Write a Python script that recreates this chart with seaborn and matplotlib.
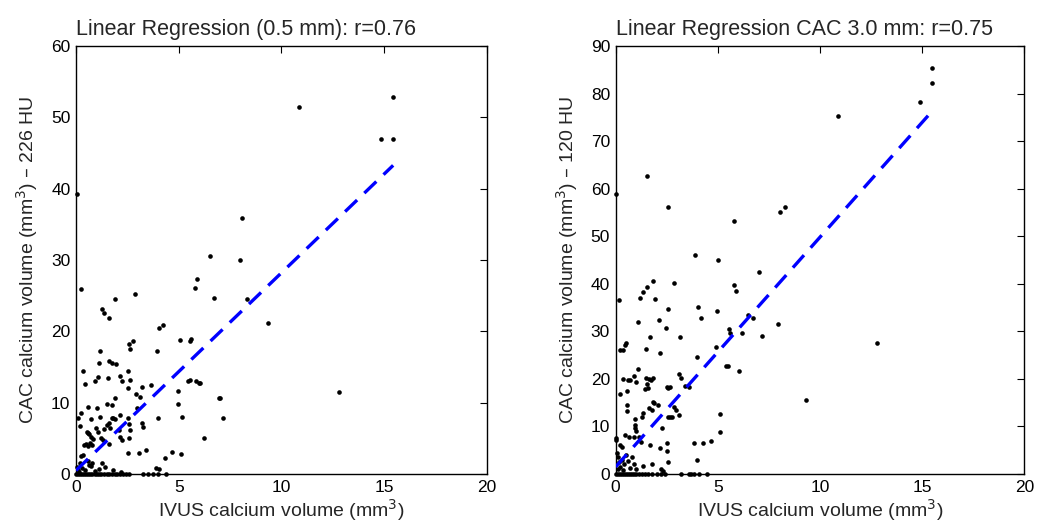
import numpy as np
import pandas as pd
import matplotlib
matplotlib.use("Agg")
import matplotlib.pyplot as plt
import seaborn as sns

sns.set_style("white")
plt.rcParams['font.family'] = ['Liberation Sans', 'DejaVu Sans']

# ---------------- data ----------------
left_x = [0.03, 0.26, 1.25, 1.38, 1.62, 1.88, 2.89, 5.8, 5.89, 6.5, 6.72, 7.96, 8.06, 8.3, 10.87, 14.87, 15.44, 15.44,
          9.34, 6.03, 7.02, 7.15, 6.21, 12.8,
          4.04, 4.25, 1.17, 5.06, 5.55, 5.6, 2.6, 2.76, 2.61, 3.93, 0.33, 1.14, 1.59, 1.74, 1.96, 2.51, 0.44, 0.94, 1.06,
          1.57, 2.14, 2.22, 2.64, 2.55, 3.21, 3.66, 5.45, 5.55, 5.84, 6.0, 2.9, 3.11, 1.9, 4.95, 6.97, 0.11, 0.23, 0.19,
          0.6, 1.02, 1.51, 1.74, 0.73, 1.17, 1.74, 1.82, 1.9, 2.14, 2.55, 2.95, 3.97, 4.98, 5.16, 0.55, 0.6, 0.65, 0.97,
          1.06, 1.36, 1.49, 1.62, 1.65, 2.11, 2.6, 2.63, 3.2, 3.26, 2.16, 2.24, 1.2, 1.3, 0.75, 0.84, 0.4, 0.5, 0.6, 0.7,
          0.8, 1.62, 2.56, 2.55, 3.07, 3.42, 4.69, 5.12, 4.35, 0.23, 0.33, 0.6, 0.65, 0.75, 0.8, 1.28, 1.41, 3.9, 4.04,
          1.82, 0.05, 0.1, 0.15, 0.2, 0.3, 0.45, 0.9, 1.1, 2.2,
          0.02, 0.1, 0.2, 0.3, 0.4, 0.5, 0.6, 0.7, 0.8, 0.9, 1.0, 1.1, 1.2, 1.35, 1.5, 1.6, 1.75, 1.9, 2.0, 2.15, 2.3,
          2.45, 2.6, 3.28, 3.52, 3.76, 4.0, 4.38]
left_y = [39.3, 26.0, 23.2, 22.5, 21.8, 24.6, 25.3, 26.1, 27.3, 30.6, 24.7, 30.0, 35.9, 24.5, 51.4, 47.0, 47.0, 52.9,
          21.2, 12.7, 10.6, 7.85, 5.0, 11.5,
          20.5, 20.9, 17.2, 18.8, 18.7, 18.9, 18.2, 18.6, 17.5, 17.3, 14.4, 15.5, 15.8, 15.6, 15.4, 14.4, 12.6, 13.1, 13.6,
          13.4, 13.7, 13.1, 13.2, 12.1, 12.2, 12.5, 13.1, 13.2, 13.0, 12.7, 11.2, 10.8, 10.6, 11.6, 10.6, 7.9, 8.6, 6.7,
          9.4, 9.2, 9.8, 9.7, 7.7, 8.0, 7.8, 7.9, 7.7, 8.2, 7.8, 9.2, 7.85, 9.8, 8.0, 5.9, 5.7, 5.6, 6.4,
          5.85, 6.3, 6.9, 7.1, 6.5, 6.1, 7.0, 6.2, 7.2, 6.55, 5.2, 4.8, 5.1, 4.8, 5.2, 4.9, 4.0, 4.2, 3.9, 4.3,
          4.1, 4.2, 5.0, 3.0, 3.0, 3.3, 3.1, 2.85, 2.3, 2.5, 2.7, 1.8, 1.3, 1.1, 1.6, 1.5, 1.0, 0.8, 0.65,
          0.5, 1.0, 0.5, 0.3, 1.5, 0.8, 0.6, 0.4, 0.7, 0.3,
          0, 0, 0, 0, 0, 0, 0, 0, 0, 0, 0, 0, 0, 0, 0, 0, 0, 0, 0, 0, 0,
          0, 0, 0, 0, 0, 0, 0]

right_x = [0.0, 0.15, 1.19, 1.34, 1.55, 1.82, 1.92, 1.52, 2.54, 2.84, 2.56, 3.9, 4.01, 5.0, 5.77, 5.79, 5.87, 7.0, 8.04,
           8.28, 10.87, 14.88, 15.47, 15.47,
           6.47, 6.71, 7.96, 6.19, 7.14, 12.8, 9.32, 6.06,
           4.95, 2.12, 1.09, 4.19, 2.44, 5.54, 5.61, 1.7, 3.16, 0.5, 0.2, 0.36, 0.44, 1.5, 2.19, 4.0, 4.92, 5.41, 5.49,
           1.09, 0.9, 0.6, 0.68, 0.36, 0.98, 1.5, 1.62, 1.72, 1.85, 1.55, 1.58, 1.45, 0.57, 2.51, 2.56, 2.64, 3.08, 3.21,
           3.39, 3.58, 0.23, 1.82, 1.9, 2.07, 1.61, 1.78, 0.55, 0.55, 2.84, 2.97, 3.08, 2.56, 2.64, 2.77, 1.34, 1.3,
           2.26, 0.93, 0.96, 0.93, 0.98, 0.45, 0.67, 0.9, 1.16, 1.26, 1.66, 0.2, 0.33, 0.0, 0.03, 2.15, 2.53, 2.51,
           3.83, 4.27, 4.68, 5.09, 5.12, 3.98, 2.56, 1.34, 1.78,
           0.05, 0.1, 0.15, 0.2, 0.3, 0.4, 0.5, 0.6, 0.7, 0.8, 0.9, 1.0, 0.1, 0.35, 2.2, 2.3,
           0.0, 0.1, 0.2, 0.3, 0.4, 0.5, 0.6, 0.7, 0.8, 0.9, 1.0, 1.15, 1.3, 1.45, 1.6, 1.8, 2.0, 2.2, 2.4, 3.2,
           3.6, 3.7, 3.85, 4.1, 4.45]
right_y = [58.9, 36.6, 37.0, 38.3, 39.3, 40.6, 36.7, 62.6, 56.1, 40.2, 34.6, 46.0, 35.2, 45.0, 53.2, 39.7, 38.5, 42.4,
           55.2, 56.1, 75.2, 78.2, 82.3, 85.3,
           33.4, 32.9, 31.5, 29.7, 29.1, 27.5, 15.6, 21.7,
           34.2, 32.4, 32.0, 32.7, 30.6, 30.4, 29.7, 28.9, 28.8, 27.5, 26.1, 26.1, 27.1, 26.3, 25.4, 24.5, 26.7, 22.8,
           22.7, 22.0, 20.6, 19.8, 19.8, 20.0, 19.3, 20.1, 20.0, 19.8, 20.1, 18.9, 18.0, 17.8, 17.5, 18.2, 18.0, 18.2,
           21.1, 20.2, 18.5, 18.2, 16.8, 15.2, 14.9, 14.5, 13.8, 13.4, 14.5, 13.3, 14.1, 13.5, 12.4, 12.0, 11.9, 11.9,
           12.8, 11.9, 9.6, 11.6, 10.3, 9.7, 9.1, 8.2, 7.8, 7.8, 7.8, 6.8, 6.1, 6.0, 5.7, 7.1, 7.5, 5.4, 6.5, 4.9,
           6.6, 6.6, 6.9, 8.8, 12.7, 2.9, 2.5, 1.7, 2.0,
           4.5, 3.5, 2.5, 1.5, 3.0, 2.0, 4.0, 2.8, 1.2, 3.5, 2.2, 1.0, 1.0, 0.8, 1.0, 0.6,
           0, 0, 0, 0, 0, 0, 0, 0, 0, 0, 0, 0, 0, 0, 0, 0, 0, 0, 0, 0,
           0, 0, 0, 0, 0]

left_fit = (2.77, 0.5)    # slope, intercept
right_fit = (4.83, 1.5)

x_ticks = [0, 5, 10, 15, 20]
left_yticks = [0, 10, 20, 30, 40, 50, 60]
right_yticks = [0, 10, 20, 30, 40, 50, 60, 70, 80, 90]

titles = ["Linear Regression (0.5 mm): r=0.76", "Linear Regression CAC 3.0 mm: r=0.75"]
ylabels = ["CAC calcium volume (mm$^3$) \u2013 226 HU", "CAC calcium volume (mm$^3$) \u2013 120 HU"]
xlabel = "IVUS calcium volume (mm$^3$)"

# ---------------- figure ----------------
fig = plt.figure(figsize=(10.56, 5.29), dpi=100)
ax1 = fig.add_axes([0.072, 0.104, 0.389, 0.809])
ax2 = fig.add_axes([0.583, 0.104, 0.387, 0.809])

panels = [
    (ax1, left_x, left_y, left_fit, left_yticks, titles[0], ylabels[0]),
    (ax2, right_x, right_y, right_fit, right_yticks, titles[1], ylabels[1]),
]

for ax, xs, ys, fit, yt, title, ylab in panels:
    df = pd.DataFrame({"x": xs, "y": ys})
    sns.scatterplot(data=df, x="x", y="y", ax=ax, color="black", s=11, linewidth=0, zorder=3, clip_on=False)
    fx = np.array([0.0, max(xs)])
    fdf = pd.DataFrame({"x": fx, "y": fit[0] * fx + fit[1]})
    sns.lineplot(data=fdf, x="x", y="y", ax=ax, color="#0000ff", linewidth=2.4, zorder=4)
    ax.lines[-1].set_dashes([5, 3])
    ax.set_xlim(0, 20)
    ax.set_ylim(yt[0], yt[-1])
    ax.set_xticks(x_ticks)
    ax.set_yticks(yt)
    ax.tick_params(direction="in", top=True, right=True, length=5, width=0.8,
                   labelsize=12.5, pad=4, colors="black")
    for sp in ax.spines.values():
        sp.set_visible(True)
        sp.set_color("black")
        sp.set_linewidth(1.0)
    ax.set_title(title, loc="left", fontsize=15.5, pad=8)
    ax.set_xlabel(xlabel, fontsize=14, labelpad=2)
    ax.set_ylabel(ylab, fontsize=14, labelpad=8)

fig.savefig("out.png", dpi=100)
